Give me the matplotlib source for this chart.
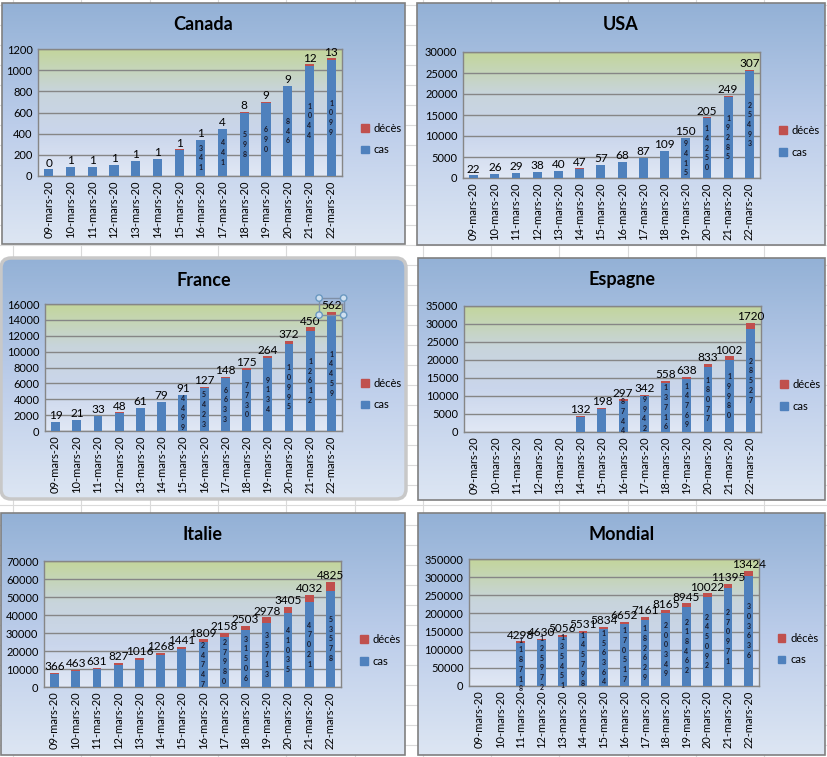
import numpy as np
import matplotlib.pyplot as plt
from matplotlib.colors import LinearSegmentedColormap
from matplotlib.patches import Rectangle, FancyBboxPatch, Circle

plt.rcParams['font.family'] = ['Lato', 'DejaVu Sans']

dates = ['09-mars-20', '10-mars-20', '11-mars-20', '12-mars-20', '13-mars-20',
         '14-mars-20', '15-mars-20', '16-mars-20', '17-mars-20', '18-mars-20',
         '19-mars-20', '20-mars-20', '21-mars-20', '22-mars-20']

canada_cas = [62, 85, 85, 103, 140, 160, 250, 341, 441, 598, 690, 846, 1044, 1099]
canada_deces = [0, 1, 1, 1, 1, 1, 1, 1, 4, 8, 9, 9, 12, 13]

usa_cas = [620, 960, 1270, 1450, 1700, 2250, 3000, 3700, 4660, 6400, 9415, 14250, 19285, 25493]
usa_deces = [22, 26, 29, 38, 40, 47, 57, 68, 87, 109, 150, 205, 249, 307]

france_cas = [1100, 1400, 1850, 2300, 2850, 3600, 4499, 5423, 6633, 7730, 9134, 10995, 12612, 14459]
france_deces = [19, 21, 33, 48, 61, 79, 91, 127, 148, 175, 264, 372, 450, 562]

espagne_cas = [None, None, None, None, None, 4300, 6450, 8744, 9942, 13716, 14769, 18077, 19980, 28527]
espagne_deces = [None, None, None, None, None, 132, 198, 297, 342, 558, 638, 833, 1002, 1720]

italie_cas = [7400, 9100, 10000, 12500, 15100, 17650, 20900, 24747, 27980, 31506, 35713, 41035, 47021, 53578]
italie_deces = [366, 463, 631, 827, 1016, 1268, 1441, 1809, 2158, 2503, 2978, 3405, 4032, 4825]

mondial_cas = [None, None, 118718, 125972, 135451, 145798, 156364, 170517, 182629, 200349,
               218462, 245092, 270971, 303636]
mondial_deces = [None, None, 4298, 4630, 5056, 5531, 5834, 6652, 7161, 8165, 8945, 10022, 11395, 13424]

pays = ['Canada', 'USA', 'France', 'Espagne', 'Italie', 'Mondial']
series_cas = [canada_cas, usa_cas, france_cas, espagne_cas, italie_cas, mondial_cas]
series_deces = [canada_deces, usa_deces, france_deces, espagne_deces, italie_deces, mondial_deces]
y_max = [1200, 30000, 16000, 35000, 70000, 350000]
y_pas = [200, 5000, 2000, 5000, 10000, 50000]
# first bar that carries a value label for "cas"
premier_label = [7, 10, 6, 7, 7, 2]

# layout in pixels (x0, y0, x1, y1) from top-left
cadres = [(2, 3, 405, 244), (417, 3, 825, 245), (1, 258, 406, 499),
          (418, 258, 825, 500), (1, 513, 405, 755), (418, 513, 825, 755)]
zones = [(38, 49, 342, 176), (463, 52, 760, 178), (45, 304, 342, 431),
         (464, 306, 761, 432), (44, 561, 341, 687), (469, 559, 759, 686)]

BLEU = '#4f81bd'
ROUGE = '#c0504d'

W, H = 827, 757
fig = plt.figure(figsize=(W / 100, H / 100), dpi=100)
fig.patch.set_facecolor('white')


def frac(b):
    x0, y0, x1, y1 = b
    return [x0 / W, 1 - y1 / H, (x1 - x0) / W, (y1 - y0) / H]


# sheet background with cell grid
bg = fig.add_axes([0, 0, 1, 1])
bg.set_xlim(0, W)
bg.set_ylim(H, 0)
bg.axis('off')
for xv in np.arange(13, W, 68.3):
    bg.axvline(xv, color='#dadada', lw=0.8, zorder=0)
for yv in np.arange(5, H, 20):
    bg.axhline(yv, color='#dadada', lw=0.8, zorder=0)

cmap_cadre = LinearSegmentedColormap.from_list('cadre', ['#93b1d6', '#bccdea', '#dde6f3'])
cmap_zone = LinearSegmentedColormap.from_list('zone', ['#c3d69b', '#c8d4dc', '#cad6ec', '#e1e8f5'])
grad = np.linspace(0, 1, 256).reshape(-1, 1)

for k, nom in enumerate(pays):
    x0, y0, x1, y1 = cadres[k]
    if nom == 'France':
        cadre = FancyBboxPatch((x0, y0), x1 - x0, y1 - y0,
                               boxstyle='round,pad=0,rounding_size=10',
                               fc='none', ec='#c8c8c8', lw=2.5, zorder=3)
    else:
        cadre = Rectangle((x0, y0), x1 - x0, y1 - y0, fc='none', ec='#808080', lw=1.2, zorder=3)
    bg.add_patch(cadre)
    im = bg.imshow(grad, cmap=cmap_cadre, aspect='auto', extent=[x0, x1, y1, y0], zorder=2)
    im.set_clip_path(cadre)
    bg.text((x0 + x1) / 2, y0 + 22, nom, ha='center', va='center',
            fontsize=13, fontweight='bold', zorder=4)
bg.set_xlim(0, W)
bg.set_ylim(H, 0)

x = np.arange(len(dates))
label_selection = None
for k, nom in enumerate(pays):
    ax = fig.add_axes(frac(zones[k]))
    cas = np.array([np.nan if v is None else v for v in series_cas[k]], dtype=float)
    deces = np.array([np.nan if v is None else v for v in series_deces[k]], dtype=float)
    ymax = y_max[k]
    ax.imshow(grad, cmap=cmap_zone, aspect='auto', extent=[-0.5, 13.5, 0, ymax], zorder=0)
    ax.bar(x, np.nan_to_num(cas), width=0.42, color=BLEU, zorder=3)
    ax.bar(x, np.nan_to_num(deces), width=0.42, bottom=np.nan_to_num(cas), color=ROUGE, zorder=3)
    ax.set_xlim(-0.5, 13.5)
    ax.set_ylim(0, ymax)
    ax.set_yticks(np.arange(0, ymax + 1, y_pas[k]))
    ax.yaxis.grid(True, color='#868686', lw=1)
    ax.set_axisbelow(False)
    ax.set_xticks(x)
    ax.set_xticklabels(dates, rotation=90, fontsize=8)
    ax.tick_params(axis='y', labelsize=8, length=0, pad=4)
    ax.tick_params(axis='x', length=0, pad=3)
    for s in ax.spines.values():
        s.set_color('#868686')
        s.set_linewidth(1)
    for i in range(len(dates)):
        if np.isnan(cas[i]):
            continue
        if i >= premier_label[k]:
            ax.text(i, cas[i] / 2, '\n'.join(str(int(cas[i]))), ha='center', va='center',
                    fontsize=5, fontweight='bold', linespacing=1.45, color='#1a1a2a',
                    zorder=5, clip_on=False)
        t = ax.annotate(str(int(deces[i])), (i, cas[i] + deces[i]), xytext=(0, 0.5),
                        textcoords='offset points', ha='center', va='bottom',
                        fontsize=8.5, zorder=6, annotation_clip=False)
        if nom == 'France' and i == len(dates) - 1:
            label_selection = t
    handles = [Rectangle((0, 0), 1, 1, color=ROUGE), Rectangle((0, 0), 1, 1, color=BLEU)]
    ax.legend(handles, ['décès', 'cas'], loc='center left', bbox_to_anchor=(1.03, 0.29),
              frameon=False, fontsize=8, handlelength=0.7, handleheight=0.7,
              labelspacing=0.95, handletextpad=0.45)

# selected data label box (as in the Excel screenshot)
fig.canvas.draw()
over = fig.add_axes([0, 0, 1, 1])
over.set_xlim(0, W)
over.set_ylim(H, 0)
over.axis('off')
over.patch.set_alpha(0)
bb = label_selection.get_window_extent()
sx0, sx1 = bb.x0 - 2, bb.x1 + 2
sy0, sy1 = H - bb.y1 - 2, H - bb.y0 + 4
over.add_patch(Rectangle((sx0, sy0), sx1 - sx0, sy1 - sy0, fc='none', ec='#7f8fa6', lw=1))
for cx, cy in [(sx0, sy0), (sx1, sy0), (sx0, sy1), (sx1, sy1)]:
    over.add_patch(Circle((cx, cy), 3.2, fc='#cfe0f0', ec='#6a98c0', lw=1))

fig.savefig('out.png', dpi=100)
